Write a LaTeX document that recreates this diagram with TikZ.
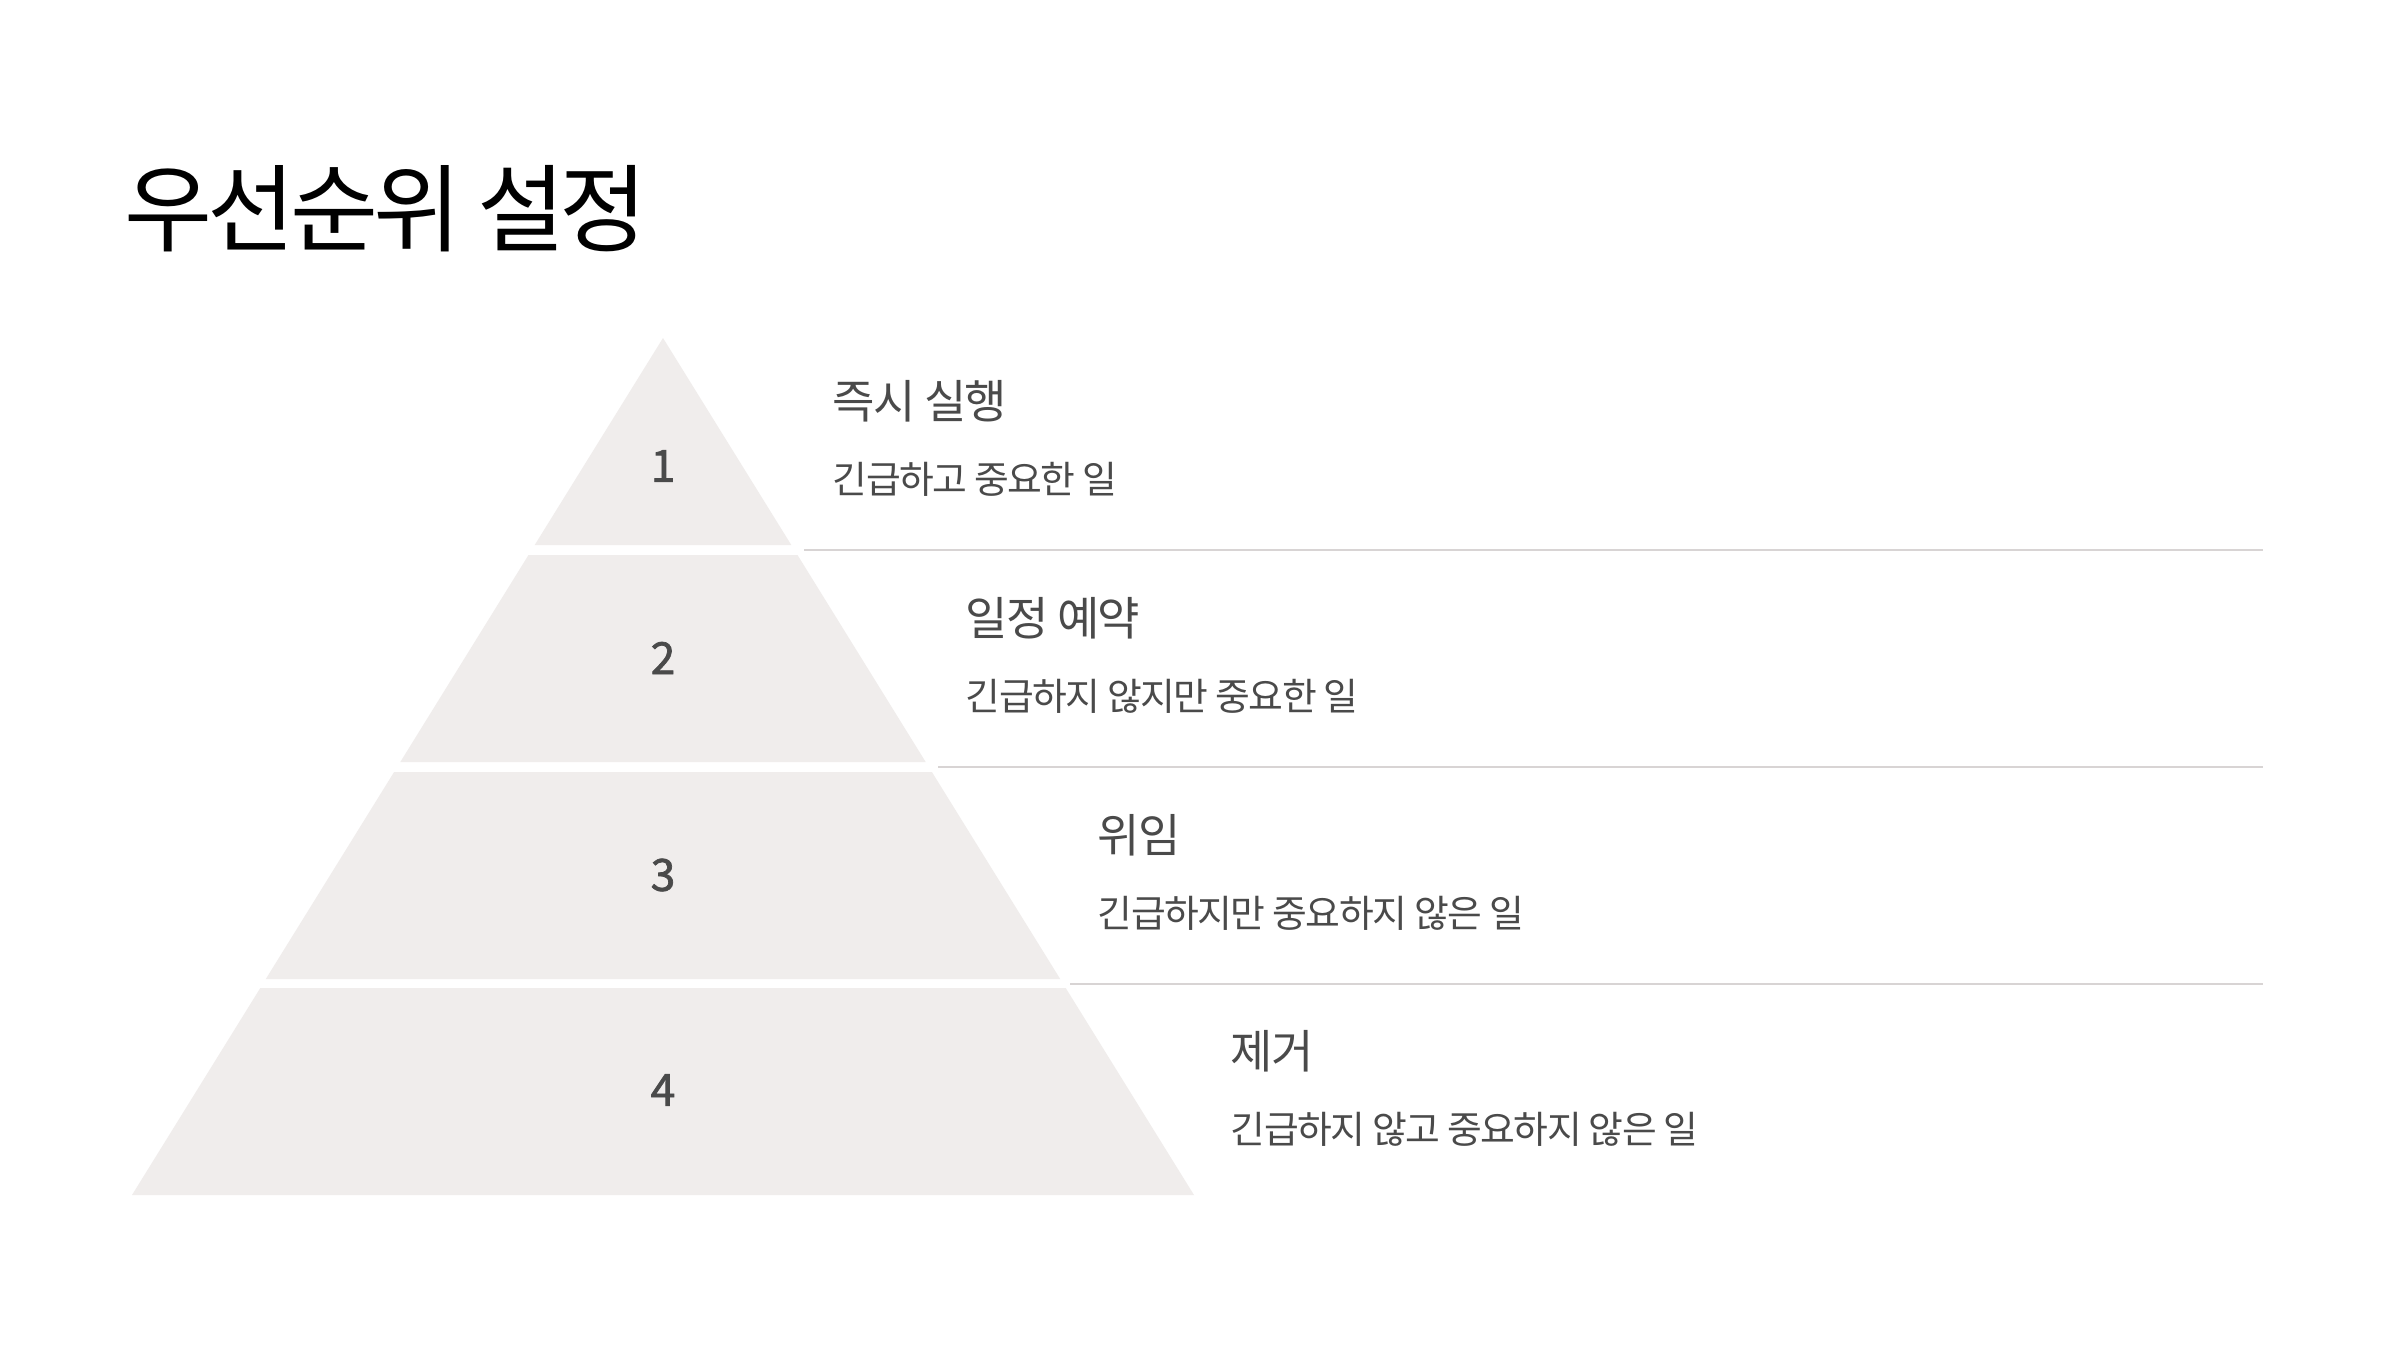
\documentclass[tikz,border=0pt]{standalone}
\usepackage{fontspec}
\setmainfont{Noto Sans CJK KR}
\newfontfamily\krfont[LetterSpace=-4]{Noto Sans CJK KR}
\newfontfamily\ttlfont[LetterSpace=-5.5]{Noto Sans CJK KR}
\newfontfamily\numfont[FakeBold=1.6]{Noto Sans CJK KR}
\definecolor{pyr}{HTML}{F0EDEC}
\definecolor{txt}{HTML}{4A4A4A}
\definecolor{sepc}{HTML}{D8D4D4}
\begin{document}
\begin{tikzpicture}[x=0.01cm,y=-0.01cm,
  band/.style={fill=pyr,draw=none},
  num/.style={inner sep=0pt,anchor=center,text=txt,font=\numfont\fontsize{12.6pt}{14pt}\selectfont},
  head/.style={inner sep=0pt,anchor=base west,text=txt,font=\krfont\fontsize{13.1pt}{15pt}\selectfont},
  sub/.style={inner sep=0pt,anchor=base west,text=txt,font=\krfont\fontsize{10.75pt}{13pt}\selectfont},
  ttl/.style={inner sep=0pt,anchor=base west,text=black,font=\ttlfont\fontsize{27.2pt}{32pt}\selectfont},
  sep/.style={draw=sepc,line width=0.6pt}]
\useasboundingbox (0,0) rectangle (2400,1350);
\fill[white] (0,0) rectangle (2400,1350);
% title
\node[ttl] (title) at (124,244) {우선순위 설정};
% pyramid bands
\fill[band] (663,338) -- (791.3,545) -- (534.7,545) -- cycle;
\fill[band] (528.5,555) -- (797.5,555) -- (925.7,762) -- (400.3,762) -- cycle;
\fill[band] (394.1,772) -- (931.9,772) -- (1060.2,979) -- (265.8,979) -- cycle;
\fill[band] (260.3,988) -- (1065.7,988) -- (1194,1195) -- (132,1195) -- cycle;
% numbers
\node[num] (n1) at (663,466) {1};
\node[num] (n2) at (663,658) {2};
\node[num] (n3) at (663,875) {3};
\node[num] (n4) at (663,1090) {4};
% separators
\coordinate (s1a) at (804,550);  \coordinate (s1b) at (2263,550);
\coordinate (s2a) at (938,767);  \coordinate (s2b) at (2263,767);
\coordinate (s3a) at (1070,984); \coordinate (s3b) at (2263,984);
\draw[sep] (s1a) -- (s1b);
\draw[sep] (s2a) -- (s2b);
\draw[sep] (s3a) -- (s3b);
% labels
\node[head] (h1) at (832,418) {즉시 실행};
\node[sub]  (d1) at (832,493) {긴급하고 중요한 일};
\node[head] (h2) at (965,635) {일정 예약};
\node[sub]  (d2) at (965,710) {긴급하지 않지만 중요한 일};
\node[head] (h3) at (1097,852) {위임};
\node[sub]  (d3) at (1097,927) {긴급하지만 중요하지 않은 일};
\node[head] (h4) at (1230,1068) {제거};
\node[sub]  (d4) at (1230,1143) {긴급하지 않고 중요하지 않은 일};
\end{tikzpicture}
\end{document}
